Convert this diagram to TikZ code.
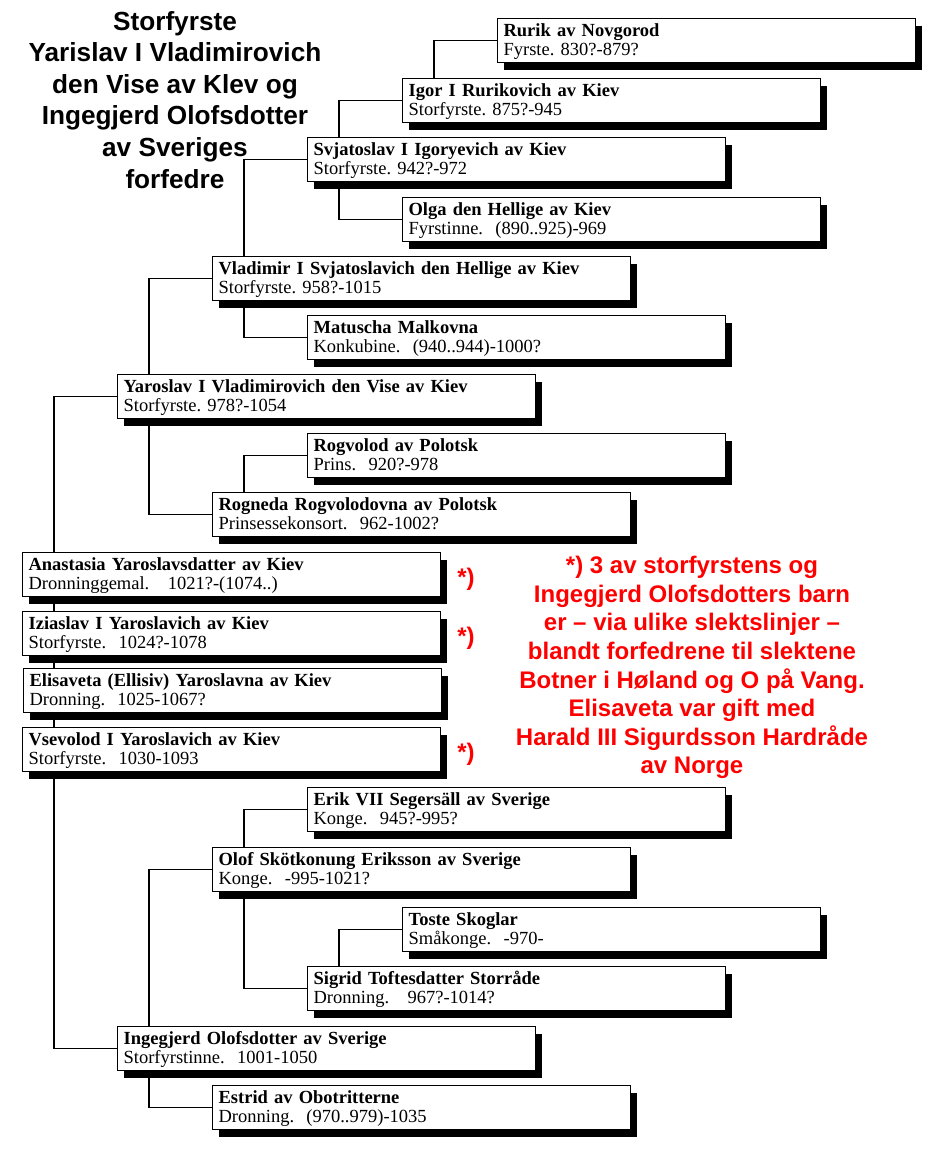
\documentclass[tikz,border=0pt]{standalone}
\usepackage{fontspec}
\setmainfont{Liberation Serif}
\newfontfamily\headfont{Liberation Sans}
\usepackage{xcolor}
\definecolor{cNote}{HTML}{FF0000}
\definecolor{cLine}{HTML}{000000}
\usepackage{tikz}
\usetikzlibrary{positioning,shadows,backgrounds}
\frenchspacing
\tikzset{
  node-person/.style={draw=cLine,line width=1.2bp,fill=white,anchor=north west,
    minimum width=418bp,minimum height=44bp,inner xsep=6bp,inner ysep=0pt,
    text width=406bp,align=left,text height=16bp,text depth=24bp,
    font=\fontsize{18.5bp}{19bp}\selectfont,
    drop shadow={shadow xshift=6bp,shadow yshift=-7bp,fill=black,opacity=1}},
  node-title/.style={font=\headfont\bfseries\fontsize{26.2bp}{31.6bp}\selectfont,
    align=center,inner sep=0pt,anchor=north},
  node-note/.style={font=\headfont\bfseries\fontsize{24bp}{28.6bp}\selectfont,
    align=center,inner sep=0pt,anchor=north,text=cNote},
  node-star/.style={font=\headfont\bfseries\fontsize{24bp}{28.6bp}\selectfont,
    inner sep=0pt,text=cNote},
  link/.style={draw=cLine,line width=1.2bp},
}

\begin{document}
\begin{tikzpicture}[x=1bp,y=-1bp]
  \useasboundingbox (0,0) rectangle (946,1160);
  % tittel og merknad
  \node[node-title] (title) at (175,11) {Storfyrste\\Yarislav I Vladimirovich\\den Vise av Klev og\\Ingegjerd Olofsdotter\\av Sveriges\\forfedre};
  \node[node-note] (note) at (692,556) {*) 3 av storfyrstens og\\Ingegjerd Olofsdotters barn\\er – via ulike slektslinjer –\\blandt forfedrene til slektene\\Botner i Høland og O på Vang.\\Elisaveta var gift med\\Harald III Sigurdsson Hardråde\\av Norge};
  % farssiden
  \node[node-person] (rurik) at (497,18) {\textbf{Rurik av Novgorod}\\Fyrste. 830?-879?};
  \node[node-person] (igor) at (402,78) {\textbf{Igor I Rurikovich av Kiev}\\Storfyrste. 875?-945};
  \node[node-person] (svjat) at (307,137) {\textbf{Svjatoslav I Igoryevich av Kiev}\\Storfyrste. 942?-972};
  \node[node-person] (olga) at (402,197) {\textbf{Olga den Hellige av Kiev}\\Fyrstinne.~ (890..925)-969};
  \node[node-person] (vladimir) at (212,256) {\textbf{Vladimir I Svjatoslavich den Hellige av Kiev}\\Storfyrste. 958?-1015};
  \node[node-person] (matuscha) at (307,315) {\textbf{Matuscha Malkovna}\\Konkubine.~ (940..944)-1000?};
  \node[node-person] (yaroslav) at (117,374) {\textbf{Yaroslav I Vladimirovich den Vise av Kiev}\\Storfyrste. 978?-1054};
  \node[node-person] (rogvolod) at (307,433) {\textbf{Rogvolod av Polotsk}\\Prins.~ 920?-978};
  \node[node-person] (rogneda) at (212,492) {\textbf{Rogneda Rogvolodovna av Polotsk}\\Prinsessekonsort.~ 962-1002?};
  % barna
  \node[node-person] (anastasia) at (22,552) {\textbf{Anastasia Yaroslavsdatter av Kiev}\\Dronninggemal.~~ 1021?-(1074..)};
  \node[node-person] (iziaslav) at (22,611) {\textbf{Iziaslav I Yaroslavich av Kiev}\\Storfyrste.~ 1024?-1078};
  \node[node-person] (elisaveta) at (23,668) {\textbf{Elisaveta (Ellisiv) Yaroslavna av Kiev}\\Dronning.~ 1025-1067?};
  \node[node-person] (vsevolod) at (22,727) {\textbf{Vsevolod I Yaroslavich av Kiev}\\Storfyrste.~ 1030-1093};
  \node[node-star,right=16bp of anastasia,yshift=-5bp] (star1) {*)};
  \node[node-star,right=16bp of iziaslav,yshift=-5bp] (star2) {*)};
  \node[node-star,right=16bp of vsevolod,yshift=-5bp] (star3) {*)};
  % morssiden
  \node[node-person] (erik) at (307,787) {\textbf{Erik VII Segersäll av Sverige}\\Konge.~ 945?-995?};
  \node[node-person] (olof) at (212,847) {\textbf{Olof Skötkonung Eriksson av Sverige}\\Konge.~ -995-1021?};
  \node[node-person] (toste) at (402,907) {\textbf{Toste Skoglar}\\Småkonge.~ -970-};
  \node[node-person] (sigrid) at (307,966) {\textbf{Sigrid Toftesdatter Storråde}\\Dronning.~~ 967?-1014?};
  \node[node-person] (ingegjerd) at (117,1026) {\textbf{Ingegjerd Olofsdotter av Sverige}\\Storfyrstinne.~ 1001-1050};
  \node[node-person] (estrid) at (212,1085) {\textbf{Estrid av Obotritterne}\\Dronning.~ (970..979)-1035};
  % linjer
  \begin{scope}[on background layer]
    \draw[link] (rurik.west) -| ([xshift=32bp]igor.north west);
    \draw[link] (igor.west) -| ([xshift=32bp]svjat.west) |- (olga.west);
    \draw[link] (svjat.west) -| ([xshift=32bp]vladimir.west) |- (matuscha.west);
    \draw[link] (vladimir.west) -| ([xshift=32bp]yaroslav.west) |- (rogneda.west);
    \draw[link] (rogvolod.west) -| ([xshift=32bp]rogneda.north west);
    \draw[link] (yaroslav.west) -| ([xshift=32bp]anastasia.west) |- (ingegjerd.west);
    \draw[link] (erik.west) -| ([xshift=32bp]olof.west) |- (sigrid.west);
    \draw[link] (toste.west) -| ([xshift=32bp]sigrid.north west);
    \draw[link] (olof.west) -| ([xshift=32bp]ingegjerd.west) |- (estrid.west);
  \end{scope}
\end{tikzpicture}
\end{document}
